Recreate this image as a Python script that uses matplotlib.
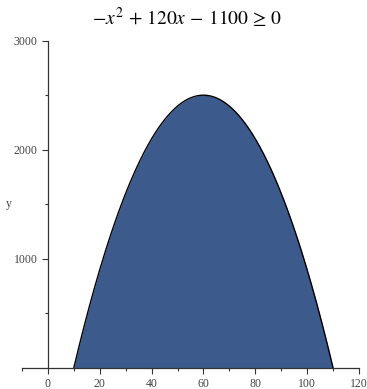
import numpy as np
import matplotlib.pyplot as plt

# quadratic -x^2 + 120x - 1100 and the range where it is >= 0
coef = [-1, 120, -1100]
x_min, x_max = -10, 120
y_max = 3000
x_ticks = [0, 20, 40, 60, 80, 100, 120]
y_ticks = [1000, 2000, 3000]

roots = np.sort(np.roots(coef).real)
x = np.linspace(roots[0], roots[1], 400)
y = np.polyval(coef, x)

plt.rcParams["mathtext.fontset"] = "stix"

fig = plt.figure(figsize=(3.67, 3.89), dpi=100)
ax = fig.add_axes([0.060, 0.0548, 0.918, 0.8406])

ax.fill_between(x, 0, y, color="#3c5a8c", lw=0)
ax.plot(x, y, color="black", lw=1)

ax.set_xlim(x_min, x_max)
ax.set_ylim(0, y_max)

ax.spines["top"].set_visible(False)
ax.spines["right"].set_visible(False)
ax.spines["left"].set_position(("data", 0))
ax.spines["left"].set_color("#333333")
ax.spines["bottom"].set_color("#333333")
ax.spines["left"].set_linewidth(0.9)
ax.spines["bottom"].set_linewidth(0.9)

ax.set_xticks(x_ticks)
ax.set_xticks(np.arange(-10, 121, 10), minor=True)
ax.set_yticks(y_ticks)
ax.set_yticks(np.arange(500, 3001, 500), minor=True)
ax.tick_params(which="both", direction="out", color="#333333", labelcolor="#444444",
               labelsize=8.5)
ax.tick_params(which="major", length=4, width=0.8)
ax.tick_params(which="minor", length=2.5, width=0.8)
for lab in ax.get_xticklabels() + ax.get_yticklabels():
    lab.set_family("Liberation Serif")

fig.text(0.025, 0.475, "y", family="Liberation Serif", fontsize=8.5, color="#444444",
         ha="center", va="center")
fig.text(0.51, 0.955, r"$-x^2 \,+\, 120x \,-\, 1100 \,\geq\, 0$", fontsize=14,
         ha="center", va="center")

fig.savefig("out.png", dpi=100)
